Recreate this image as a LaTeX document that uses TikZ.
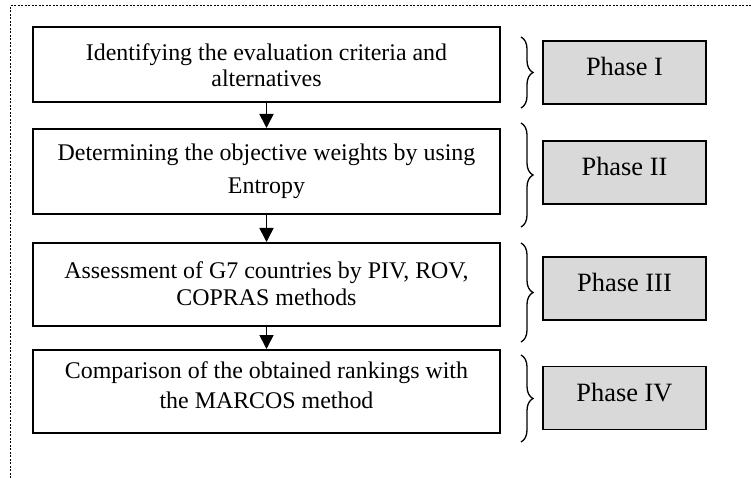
\documentclass[tikz,border=0pt]{standalone}
\usepackage{fontspec}
\setmainfont{Liberation Serif}
\usetikzlibrary{arrows.meta,decorations.pathreplacing}
\definecolor{phasegray}{HTML}{D9D9D9}
\begin{document}
\begin{tikzpicture}[x=1bp,y=-1bp,
  stepbox/.style={draw,line width=2bp,minimum width=467bp,inner sep=0pt},
  steptext/.style={anchor=base,inner sep=0pt,font=\fontsize{24}{28}\selectfont},
  phasebox/.style={draw,line width=1.6bp,fill=phasegray,minimum width=163bp,
    minimum height=63bp,font=\fontsize{26.5}{30}\selectfont,inner sep=0pt,
    text height=18bp,text depth=11bp},
  flow/.style={line width=1.6bp,-{Triangle[width=14bp,length=14bp]}},
  phasebrace/.style={decorate,decoration={brace,amplitude=12bp},line width=1.3bp},
  frameline/.style={line width=1bp,dash pattern=on 2bp off 1.5bp}]
\useasboundingbox (0,0) rectangle (751,478);

% dotted outer frame
\draw[frameline] (10,478) -- (10,6) -- (751,6);

% process steps
\node[stepbox,minimum height=75bp] (s1) at (266.5,64.5) {};
\node[stepbox,minimum height=85bp] (s2) at (266.5,171.5) {};
\node[stepbox,minimum height=83bp] (s3) at (266.5,284.5) {};
\node[stepbox,minimum height=83bp] (s4) at (266.5,391.5) {};

\node[steptext] (t1a) at (266.5,61) {Identifying the evaluation criteria and};
\node[steptext] (t1b) at (266.5,87) {alternatives};
\node[steptext] (t2a) at (266.5,161) {Determining the objective weights by using};
\node[steptext] (t2b) at (266.5,194) {Entropy};
\node[steptext] (t3a) at (266.5,279) {Assessment of G7 countries by PIV, ROV,};
\node[steptext] (t3b) at (266.5,305) {COPRAS methods};
\node[steptext] (t4a) at (266.5,378) {Comparison of the obtained rankings with};
\node[steptext] (t4b) at (266.5,408) {the MARCOS method};

\draw[flow] (s1) -- (s2);
\draw[flow] (s2) -- (s3);
\draw[flow] (s3) -- (s4);

% phase labels
\node[phasebox] (p1) at (624.5,72.5) {Phase I};
\node[phasebox] (p2) at (624.5,172.5) {Phase II};
\node[phasebox] (p3) at (624.5,288.5) {Phase III};
\node[phasebox] (p4) at (624.5,398) {Phase IV};

% braces grouping each step with its phase
\draw[phasebrace] (521,37) -- (521,108);
\draw[phasebrace] (521,123) -- (521,227);
\draw[phasebrace] (521,243) -- (521,342);
\draw[phasebrace] (521,355) -- (521,442);
\end{tikzpicture}
\end{document}
